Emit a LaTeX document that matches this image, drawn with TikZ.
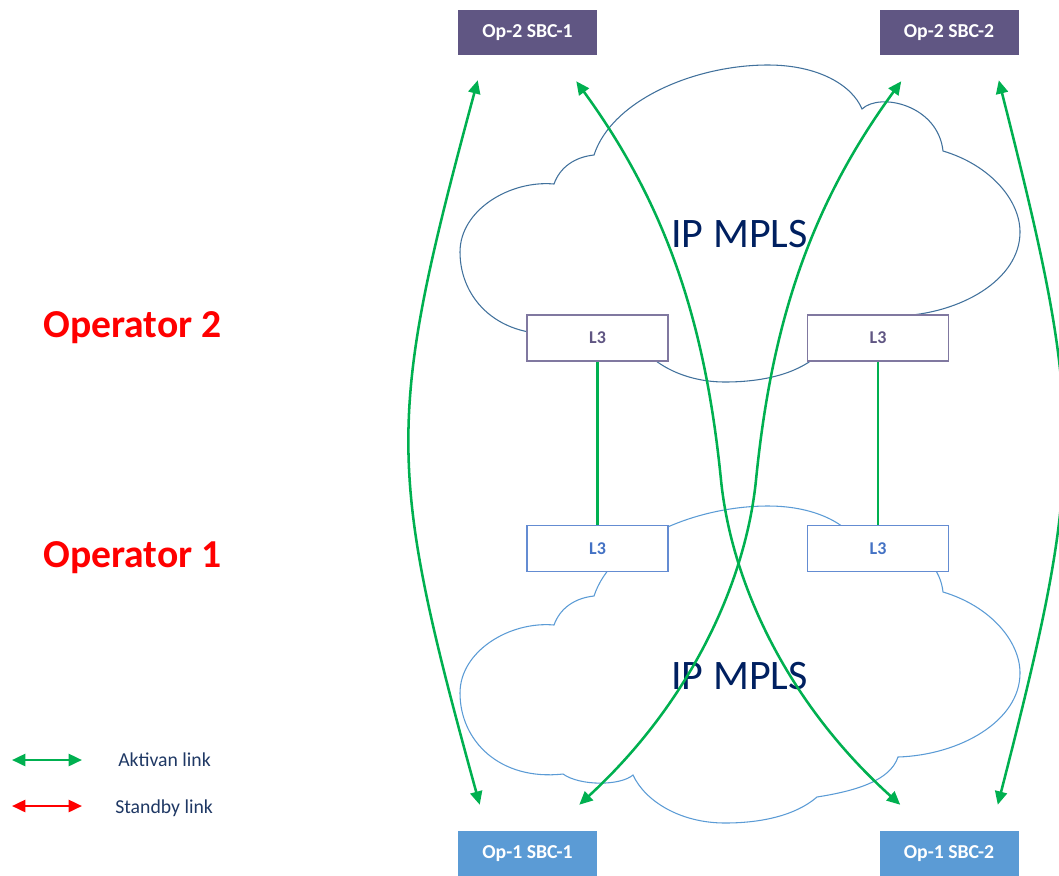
\documentclass[tikz,border=0pt]{standalone}
\usepackage{fontspec}
\setmainfont{Carlito}
\usetikzlibrary{arrows.meta, positioning}

\definecolor{optwo}{RGB}{96,86,131}
\definecolor{opone}{RGB}{91,155,213}
\definecolor{cloudup}{RGB}{65,113,156}
\definecolor{clouddown}{RGB}{91,155,213}
\definecolor{linkgreen}{RGB}{0,176,80}
\definecolor{mplsblue}{RGB}{0,32,96}
\definecolor{legendblue}{RGB}{31,56,100}
\definecolor{lthreeup}{RGB}{128,120,160}
\definecolor{lthreedown}{RGB}{100,140,210}
\definecolor{lthreetext}{RGB}{68,114,196}

\newcommand{\mplscloud}[2]{%
  \draw[#1, shift={(0,#2)}] (554,184) .. controls (560,167) and (575,157) .. (594,155)
    .. controls (612,100) and (695,65) .. (768,65)
    .. controls (818,65) and (852,85) .. (862,109)
    .. controls (880,92) and (938,105) .. (943,151)
    .. controls (990,165) and (1020,200) .. (1020,232)
    .. controls (1020,280) and (960,314) .. (898,316)
    .. controls (890,340) and (855,350) .. (817,356)
    .. controls (795,375) and (760,382) .. (725,382)
    .. controls (680,382) and (645,360) .. (633,334)
    .. controls (620,345) and (580,345) .. (563,333)
    .. controls (500,340) and (460,300) .. (460,252)
    .. controls (460,210) and (510,180) .. (554,184) -- cycle;}

\tikzset{
  sbc/.style={minimum width=104.25pt, minimum height=33.75pt, inner sep=0pt, text=white,
    font=\fontsize{14.8}{17}\selectfont\bfseries},
  sbctwo/.style={sbc, fill=optwo},
  sbcone/.style={sbc, fill=opone},
  lthree/.style={fill=white, line width=0.8pt, minimum width=105.75pt, minimum height=34.5pt,
    inner sep=0pt, font=\fontsize{13.5}{15}\selectfont\bfseries},
  lthreetop/.style={lthree, draw=lthreeup, text=optwo},
  lthreebottom/.style={lthree, draw=lthreedown, text=lthreetext},
  link/.style={linkgreen, line width=1.9pt,
    {Triangle[length=10pt,width=9pt]}-{Triangle[length=10pt,width=9pt]}},
  standby/.style={link, red},
  uplink/.style={linkgreen, line width=1.6pt},
  operator/.style={text=red, anchor=base, font=\fontsize{29.7}{34}\selectfont\bfseries},
  mpls/.style={text=mplsblue, font=\fontsize{31.5}{36}\selectfont},
  legendtext/.style={text=legendblue, anchor=base west, inner sep=0pt,
    font=\fontsize{14.8}{17}\selectfont}
}

\begin{document}
\begin{tikzpicture}[x=0.75pt, y=-0.75pt]
    \useasboundingbox (0,0) rectangle (1059,875);

    \mplscloud{cloudup, line width=0.8pt}{0}
    \mplscloud{clouddown, line width=0.8pt}{441}

    \node[mpls] (mplstop) at (739.5,234) {IP MPLS};
    \node[mpls] (mplsbottom) at (739.5,676) {IP MPLS};

    \node[sbctwo] (optwoa) at (527.5,32.5) {Op-2 SBC-1};
    \node[sbctwo] (optwob) at (949,32.5) {Op-2 SBC-2};
    \node[sbcone] (oponea) at (527.5,853.5) {Op-1 SBC-1};
    \node[sbcone] (oponeb) at (949,853.5) {Op-1 SBC-2};

    \node[lthreetop] (ltwoa) at (597.5,338) {L3};
    \node[lthreetop] (ltwob) at (878,338) {L3};
    \node[lthreebottom] (lonea) at (597.5,548.5) {L3};
    \node[lthreebottom] (loneb) at (878,548.5) {L3};

    \node[operator] (optwolabel) at (132.5,337) {Operator 2};
    \node[operator] (oponelabel) at (132.5,567) {Operator 1};

    \coordinate (ta) at ([shift={(20,25)}]optwoa.south west);
    \coordinate (tb) at ([shift={(-21,26)}]optwoa.south east);
    \coordinate (tc) at ([shift={(22,26)}]optwob.south west);
    \coordinate (td) at ([shift={(-20,25)}]optwob.south east);
    \coordinate (ba) at ([shift={(22,-26)}]oponea.north west);
    \coordinate (bb) at ([shift={(-18,-26)}]oponea.north east);
    \coordinate (bc) at ([shift={(21,-26)}]oponeb.north west);
    \coordinate (bd) at ([shift={(-21,-26)}]oponeb.north east);

    \draw[uplink] (ltwoa) -- (lonea);
    \draw[uplink] (ltwob) -- (loneb);

    \draw[link] (ta) .. controls (386,420) and (386,465) .. (ba);
    \draw[link] (td) .. controls (1085,420) and (1085,465) .. (bd);
    \draw[link] (tb) .. controls (670,210) and (706,330) .. (721,480)
                .. controls (731,580) and (785,701) .. (bc);
    \draw[link] (tc) .. controls (807,210) and (771,330) .. (756,480)
                .. controls (746,580) and (692,701) .. (bb);

    \node[legendtext] (aktivan) at (118,766) {Aktivan link};
    \node[legendtext] (standby) at (115,813) {Standby link};
    \coordinate (aktivanl) at (12,760);
    \coordinate (aktivanr) at (82,760);
    \coordinate (standbyl) at (12,806);
    \coordinate (standbyr) at (82,806);
    \draw[link] (aktivanl) -- (aktivanr);
    \draw[standby] (standbyl) -- (standbyr);
\end{tikzpicture}
\end{document}
